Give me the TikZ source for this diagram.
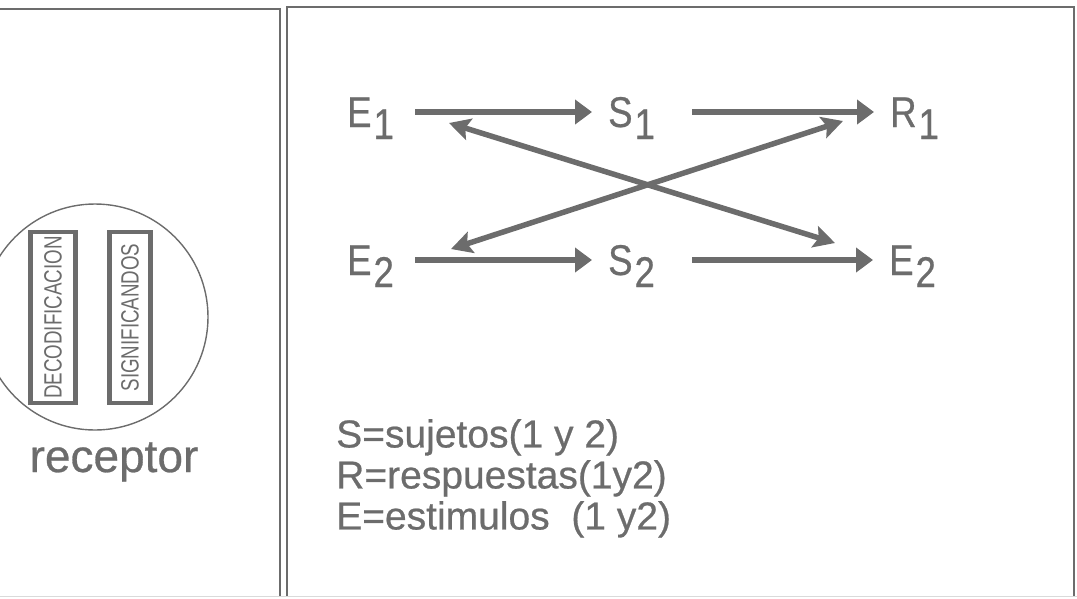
\documentclass[tikz,border=0pt]{standalone}
\usepackage{fontspec}
\setmainfont[FakeBold=0.6]{Liberation Sans}
\newfontfamily\narrowfont[FakeStretch=0.75]{Liberation Sans}
\newfontfamily\termfont[FakeStretch=0.85,FakeBold=0.6]{Liberation Sans}
\usetikzlibrary{arrows.meta,calc}
\definecolor{ink}{RGB}{108,108,108}
\newcommand\lowsub[2]{#1\kern2pt\raisebox{-12pt}{#2}}
\begin{document}
\begin{tikzpicture}[x=1pt,y=-1pt,
  frame/.style={draw=ink,line width=2.6pt},
  faint/.style={draw=ink!25,line width=1pt},
  term/.style={text=ink,font=\termfont\fontsize{43}{43}\selectfont,inner sep=0pt,
    text height=30pt,text depth=0pt,anchor=base west,align=left},
  flow/.style={draw=ink,line width=6pt,shorten <=8pt,shorten >=16pt,
    -{Triangle[length=17pt,width=24pt]}},
  cross/.style={draw=ink,line width=5.5pt,
    {Stealth[length=21pt,width=22pt,inset=4pt]}-{Stealth[length=21pt,width=22pt,inset=4pt]}},
  vbox/.style={draw=ink,line width=4.5pt,rotate=90,inner sep=0pt,
    text=ink,font=\narrowfont\fontsize{25}{25}\selectfont},
  legend/.style={text=ink,font=\fontsize{39}{41}\selectfont,align=left,anchor=north west,inner sep=0pt}]
\useasboundingbox (0,0) rectangle (1077,598);
\clip (0,0) rectangle (1077,598);

% panel frames
\draw[frame] (0,9) -- (280,9) -- (280,596);
\draw[frame] (287,596) -- (287,7) -- (1074,7) -- (1074,596);
\draw[faint] (0,596) -- (1077,596);

% receptor
\node[draw=ink,line width=1.4pt,circle,minimum size=226pt,inner sep=0pt] (rec) at (95,317) {};
\node[vbox,minimum width=171pt,minimum height=45pt] (deco) at (53,317.5) {DECODIFICACION};
\node[vbox,minimum width=171pt,minimum height=41pt] (sig) at (130,317.5) {SIGNIFICANDOS};
\node[text=ink,font=\fontsize{46}{46}\selectfont,anchor=base,inner sep=0pt] (reclabel) at (114,472) {receptor};

% terms
\node[term,text width=60pt] (E1) at (347,127) {\lowsub{E}{1}};
\node[term,text width=76pt] (S1) at (608,127) {\lowsub{S}{1}};
\node[term,text width=60pt] (R1) at (890,127) {\lowsub{R}{1}};
\node[term,text width=60pt] (E2) at (347,275) {\lowsub{E}{2}};
\node[term,text width=76pt] (S2) at (608,275) {\lowsub{S}{2}};
\node[term,text width=60pt] (E3) at (889,275) {\lowsub{E}{2}};

\draw[flow] (E1) -- (S1);
\draw[flow] (S1) -- (R1);
\draw[flow] (E2) -- (S2);
\draw[flow] (S2) -- (E3);

% crossing links
\coordinate (a1) at (449,123);
\coordinate (a2) at (835,243);
\coordinate (b1) at (451,249);
\coordinate (b2) at (843,121);
\draw[cross] (a1) -- (a2);
\draw[cross] (b1) -- (b2);

% legend
\node[legend] (key) at (336,419) {S=sujetos(1 y 2)\\R=respuestas(1y2)\\E=estimulos\ \ (1 y2)};
\end{tikzpicture}
\end{document}
